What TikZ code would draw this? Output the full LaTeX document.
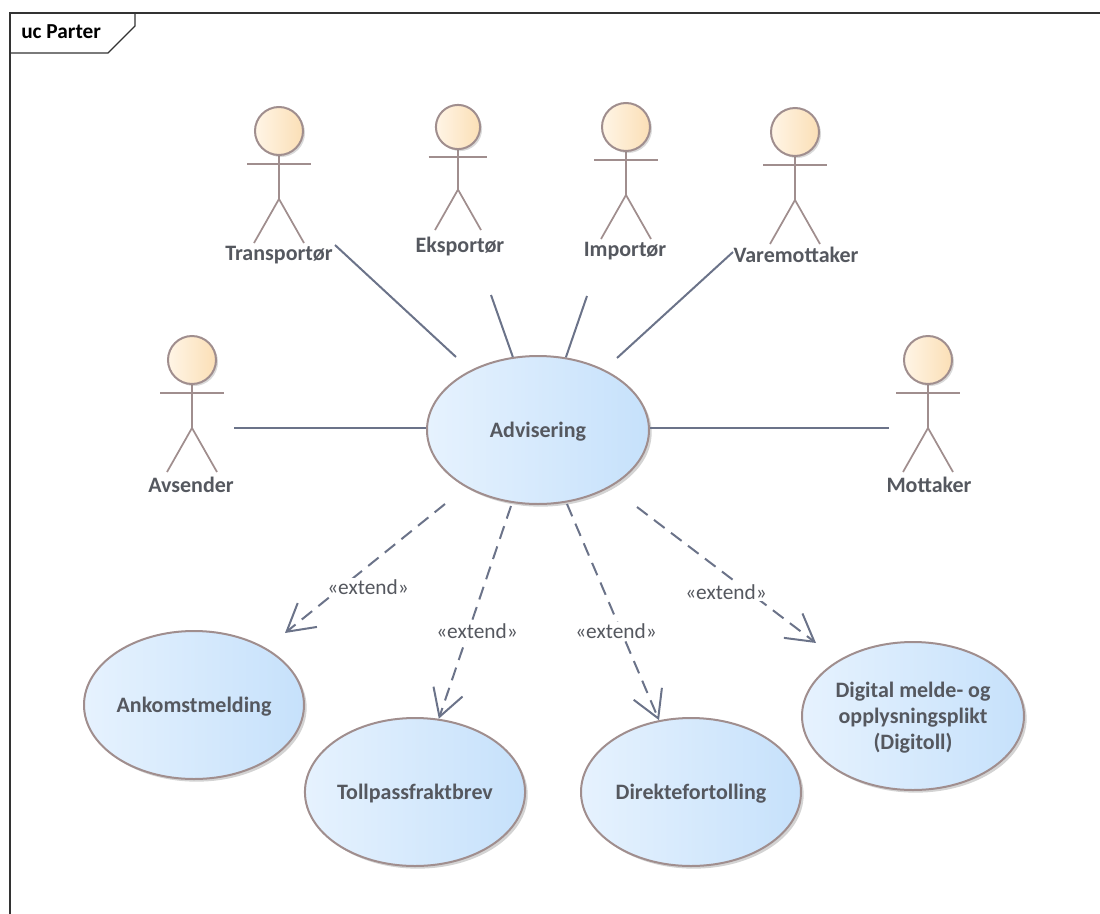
\documentclass[tikz,border=0pt]{standalone}
\usepackage{fontspec}
\setmainfont{Carlito}
\usetikzlibrary{positioning}
\usetikzlibrary{arrows.meta}
\usetikzlibrary{shapes.geometric}
\usetikzlibrary{shadows}
\definecolor{edgeblue}{HTML}{6B7389}
\definecolor{outline}{HTML}{A08E8E}
\definecolor{labeltext}{HTML}{55585F}
\definecolor{caseleft}{HTML}{E6F2FE}
\definecolor{caseright}{HTML}{C6E1FB}
\definecolor{headleft}{HTML}{FFF5E6}
\definecolor{headright}{HTML}{FBDFB6}
\tikzstyle{usecase}=[draw=outline, ellipse, line width=1.5pt, inner sep=0pt, minimum width=166.5pt, minimum height=111pt, left color=caseleft, right color=caseright, drop shadow={shadow xshift=2pt, shadow yshift=-2pt, opacity=0.35}, text=labeltext, font=\fontsize{16.5}{19.5}\selectfont\bfseries, align=center, text depth=0pt]
\tikzstyle{head}=[draw=outline, circle, line width=1.5pt, inner sep=0pt, minimum size=36pt, left color=headleft, right color=headright, drop shadow={shadow xshift=1.5pt, shadow yshift=-1.5pt, opacity=0.3}]
\tikzstyle{limb}=[draw=outline, line width=1.3pt]
\tikzstyle{actorname}=[text=labeltext, inner sep=0pt, font=\fontsize{16.5}{19}\selectfont\bfseries]
\tikzstyle{assoc}=[draw=edgeblue, line width=1.5pt]
\tikzstyle{extends}=[draw=edgeblue, line width=1.5pt, dash pattern=on 10pt off 6pt, -{Straight Barb[length=20pt, width=23pt, line width=1.5pt]}]
\tikzstyle{stereo}=[fill=white, text=labeltext, inner sep=1pt, font=\fontsize{16}{18}\selectfont]
\begin{document}
\begin{tikzpicture}[x=0.75pt, y=-0.75pt]
	\useasboundingbox (0,0) rectangle (1100,914);
	
	% frame
	\draw [line width=1pt, black!80] (1100,13) -- (10,13) -- (10,914);
	\draw [line width=1pt, black!80] (10,53) -- (108,53) -- (135,26) -- (135,13);
	\node (title) [anchor=west, inner sep=0pt, font=\fontsize{16}{18}\selectfont\bfseries] at (21,32) {uc Parter};
	
	% actors
	\foreach \name/\x/\y/\r/\txt/\tx/\ty in {
		transp/279/131/1/Transportør/279/255,
		eksp/458/127/0.92/Eksportør/460/247,
		imp/626/127/1/Importør/625/251,
		varem/795/132/1/Varemottaker/796/255,
		avs/192/360/1/Avsender/191/485,
		mott/928/360/1/Mottaker/929/485}{
		\draw [limb] (\x-32*\r,\y+33*\r) -- (\x+32*\r,\y+33*\r);
		\draw [limb] (\x,\y+24*\r) -- (\x,\y+68*\r);
		\draw [limb] (\x-25*\r,\y+112*\r) -- (\x,\y+68*\r) -- (\x+25*\r,\y+112*\r);
		\node (\name) [head, minimum size=36pt*\r] at (\x,\y) {};
		\node (\name label) [actorname] at (\tx,\ty) {\txt};
	}
	
	% use cases
	\node (adv) [usecase] at (538,430) {Advisering};
	\node (ankomst) [usecase, minimum width=165pt] at (194,705) {Ankomstmelding};
	\node (toll) [usecase, minimum width=165pt] at (415,792) {Tollpassfraktbrev};
	\node (direkte) [usecase, minimum width=165pt] at (691,792) {Direktefortolling};
	\node (digital) [usecase] at (913,716) {Digital melde- og\\opplysningsplikt\\(Digitoll)};
	
	% free ends of the connectors
	\coordinate (transpend) at (335,245);
	\coordinate (transpgap) at (456,357);
	\coordinate (ekspend) at (491,295);
	\coordinate (impend) at (587,296);
	\coordinate (varemend) at (733,252);
	\coordinate (varemgap) at (617,358);
	\coordinate (avsend) at (234,428);
	\coordinate (mottend) at (889,428);
	\coordinate (ext1) at (445,504);
	\coordinate (ext1end) at (285,633);
	\coordinate (ext2) at (511,506);
	\coordinate (ext3) at (567,504);
	\coordinate (ext4) at (637,507);
	\coordinate (ext4end) at (816,643);
	
	\draw [assoc] (transpend) -- (transpgap);
	\draw [assoc] (ekspend) -- (adv.109);
	\draw [assoc] (impend) -- (adv.69);
	\draw [assoc] (varemend) -- (varemgap);
	\draw [assoc] (avsend) -- (adv.west |- avsend);
	\draw [assoc] (mottend) -- (adv.east |- mottend);
	
	\draw [extends] (ext1) -- (ext1end);
	\draw [extends] (ext2) -- (toll.72);
	\draw [extends] (ext3) -- (direkte.114);
	\draw [extends] (ext4) -- (ext4end);
	
	\node (extlabel1) [stereo] at (368,587) {«extend»};
	\node (extlabel2) [stereo] at (477,631) {«extend»};
	\node (extlabel3) [stereo] at (616,631) {«extend»};
	\node (extlabel4) [stereo] at (726,592) {«extend»};
\end{tikzpicture}
\end{document}
